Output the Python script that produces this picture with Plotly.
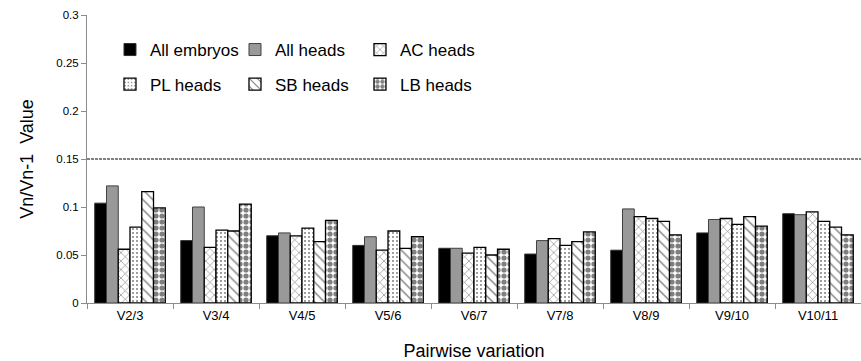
import plotly.graph_objects as go

categories = ["V2/3", "V3/4", "V4/5", "V5/6", "V6/7", "V7/8", "V8/9", "V9/10", "V10/11"]
all_embryos = [0.104, 0.065, 0.070, 0.060, 0.057, 0.051, 0.055, 0.073, 0.093]
all_heads   = [0.122, 0.100, 0.073, 0.069, 0.057, 0.065, 0.098, 0.087, 0.092]
ac_heads    = [0.056, 0.058, 0.070, 0.055, 0.052, 0.067, 0.090, 0.088, 0.095]
pl_heads    = [0.079, 0.076, 0.078, 0.075, 0.058, 0.060, 0.088, 0.082, 0.085]
sb_heads    = [0.116, 0.075, 0.064, 0.057, 0.050, 0.064, 0.085, 0.090, 0.079]
lb_heads    = [0.099, 0.103, 0.086, 0.069, 0.056, 0.074, 0.071, 0.080, 0.071]
threshold = 0.15
y_ticks = [0, 0.05, 0.1, 0.15, 0.2, 0.25, 0.3]
y_tick_text = ["0", "0.05", "0.1", "0.15", "0.2", "0.25", "0.3"]

FONT = "Arial"

series = [
    ("All embryos", all_embryos, dict(color="#000000", line=dict(color="#303030", width=1)), None, "legend"),
    ("All heads", all_heads, dict(color="#999999", line=dict(color="#404040", width=1)), None, "legend"),
    ("AC heads", ac_heads, dict(color="white", line=dict(color="#000000", width=1.3)),
     dict(shape="x", fgcolor="#000000", bgcolor="white", size=6, solidity=0.2), "legend"),
    ("PL heads", pl_heads, dict(color="white", line=dict(color="#000000", width=1.3)),
     dict(shape=".", fgcolor="#000000", bgcolor="white", size=4, solidity=0.2), "legend2"),
    ("SB heads", sb_heads, dict(color="white", line=dict(color="#000000", width=1.3)),
     dict(shape="\\", fgcolor="#000000", bgcolor="white", size=7, solidity=0.2), "legend2"),
    ("LB heads", lb_heads, dict(color="white", line=dict(color="#000000", width=1.3)),
     dict(shape=".", fgcolor="#000000", bgcolor="white", size=6, solidity=0.6), "legend2"),
]

fig = go.Figure()
for name, vals, marker, pattern, leg in series:
    m = dict(marker)
    if pattern:
        m["pattern"] = pattern
    fig.add_trace(go.Bar(name=name, x=categories, y=vals, marker=m, legend=leg))

fig.add_shape(type="line", xref="paper", yref="y", x0=0, x1=1, y0=threshold, y1=threshold,
              line=dict(color="#000000", width=1, dash="3px,1px"))

legend_common = dict(
    orientation="h", font=dict(family=FONT, size=17, color="#000000"),
    bgcolor="rgba(0,0,0,0)", entrywidth=80, entrywidthmode="pixels",
    itemwidth=30, xanchor="left", yanchor="top", traceorder="normal",
)

fig.update_layout(
    width=861, height=361,
    margin=dict(l=87, r=0, t=15, b=58),
    paper_bgcolor="white", plot_bgcolor="white",
    barmode="group", bargap=0.18, bargroupgap=0,
    font=dict(family=FONT, size=11, color="#000000"),
    legend=dict(x=0.0297, y=0.941, **legend_common),
    legend2=dict(x=0.0297, y=0.821, **legend_common),
    xaxis=dict(
        showline=True, linecolor="#8c8c8c", linewidth=1,
        ticks="outside", tickson="boundaries", ticklen=5, tickcolor="#8c8c8c",
        tickfont=dict(family=FONT, size=13, color="#000000"),
        title=dict(text="Pairwise variation", font=dict(family=FONT, size=18, color="#000000"), standoff=22),
        showgrid=False,
    ),
    yaxis=dict(
        range=[0, 0.3], tickvals=y_ticks, ticktext=y_tick_text,
        showline=True, linecolor="#8c8c8c", linewidth=1,
        ticks="outside", ticklen=5, tickcolor="#8c8c8c",
        tickfont=dict(family=FONT, size=11.5, color="#000000"),
        title=dict(text="Vn/Vn-1  Value", font=dict(family=FONT, size=18, color="#000000"), standoff=18),
        showgrid=False, zeroline=False,
    ),
)

fig.write_html("out.html")
